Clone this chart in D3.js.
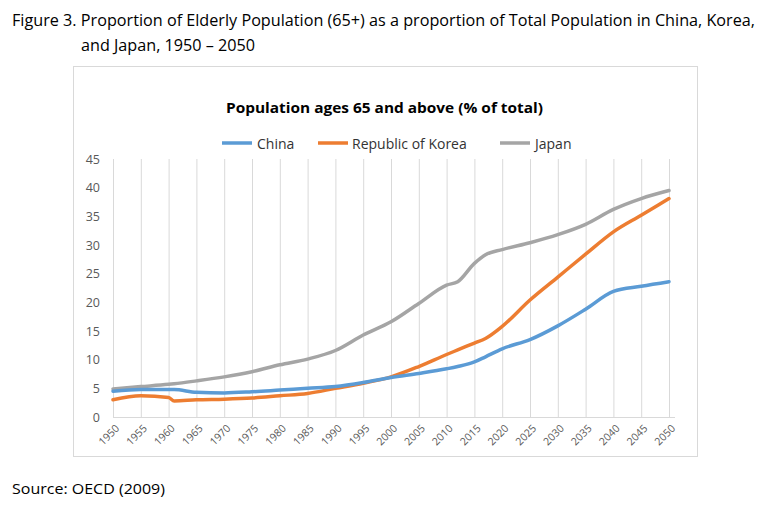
<!DOCTYPE html>
<html><head><meta charset="utf-8">
<script src="https://cdn.jsdelivr.net/npm/d3@7"></script>
<style>body{margin:0;background:#fff;}svg{display:block;}</style>
</head><body>
<script>
const years = [1950,1955,1960,1961,1965,1970,1975,1980,1985,1990,1995,2000,2005,2010,2012,2015,2017,2020,2025,2030,2035,2040,2045,2050];
const china = [4.5,4.8,4.8,4.8,4.3,4.2,4.4,4.7,5.0,5.3,6.0,6.9,7.6,8.4,8.8,9.6,10.5,11.9,13.5,15.9,18.8,21.9,22.8,23.6];
const korea = [3.0,3.7,3.4,2.8,3.0,3.1,3.3,3.7,4.1,5.0,5.9,7.0,8.8,10.9,11.7,12.9,13.7,15.8,20.4,24.4,28.4,32.3,35.2,38.1];
const japan = [4.9,5.3,5.7,5.8,6.3,7.0,7.9,9.1,10.1,11.6,14.3,16.6,19.8,23.0,23.6,26.8,28.3,29.2,30.4,31.8,33.6,36.2,38.1,39.5];
const xTicks = d3.range(1950, 2051, 5);
const yTicks = [0,5,10,15,20,25,30,35,40,45];
const seriesNames = ["China","Republic of Korea","Japan"];
const colors = ["#5B9BD5","#ED7D31","#A5A5A5"];

const W = 768, H = 515;
const svg = d3.select("body").append("svg").attr("width", W).attr("height", H);
const font = "'Open Sans', 'Liberation Sans', sans-serif";

// figure title
svg.append("text").attr("x", 12).attr("y", 26).attr("font-family", font).attr("font-size", 16)
  .attr("fill", "#000").attr("textLength", 743).attr("lengthAdjust", "spacingAndGlyphs")
  .text("Figure 3. Proportion of Elderly Population (65+) as a proportion of Total Population in China, Korea,");
svg.append("text").attr("x", 81).attr("y", 51).attr("font-family", font).attr("font-size", 16)
  .attr("fill", "#000").attr("textLength", 174).attr("lengthAdjust", "spacingAndGlyphs")
  .text("and Japan, 1950 \u2013 2050");

// chart border
svg.append("rect").attr("x", 73.5).attr("y", 66.5).attr("width", 624).attr("height", 390)
  .attr("fill", "#fff").attr("stroke", "#d9d9d9").attr("stroke-width", 1);

// chart title
svg.append("text").attr("x", 226).attr("y", 113).attr("font-family", font).attr("font-size", 15)
  .attr("font-weight", "bold").attr("fill", "#000").attr("textLength", 317).attr("lengthAdjust", "spacingAndGlyphs")
  .text("Population ages 65 and above (% of total)");

const x = d3.scaleLinear().domain([1950, 2050]).range([113, 669]);
const y = d3.scaleLinear().domain([0, 45]).range([417, 159]);

// vertical gridlines
svg.append("g").selectAll("line").data(xTicks).join("line")
  .attr("x1", d => x(d) + 0.5).attr("x2", d => x(d) + 0.5)
  .attr("y1", y(45)).attr("y2", y(0))
  .attr("stroke", "#d9d9d9").attr("stroke-width", 1);

// x axis line
svg.append("line").attr("x1", x(1950)).attr("x2", x(2050) + 6)
  .attr("y1", y(0) + 0.5).attr("y2", y(0) + 0.5).attr("stroke", "#d9d9d9").attr("stroke-width", 1);

// y labels
svg.append("g").selectAll("text").data(yTicks).join("text")
  .attr("x", 100).attr("y", d => y(d) + 4.5).attr("text-anchor", "end")
  .attr("font-family", font).attr("font-size", 12.5).attr("fill", "#595959")
  .text(d => d);

// x labels rotated
svg.append("g").selectAll("text").data(xTicks).join("text")
  .attr("font-family", font).attr("font-size", 10.5).attr("fill", "#595959")
  .attr("text-anchor", "end")
  .attr("transform", d => `translate(${x(d) + 7},${y(0) + 12}) rotate(-45)`)
  .text(d => d);

// lines
const data = [china, korea, japan];
const line = d3.line().x((d, i) => x(years[i])).y(d => y(d)).curve(d3.curveMonotoneX);
[2, 1, 0].forEach(k => {
  svg.append("path").datum(data[k]).attr("d", line)
    .attr("fill", "none").attr("stroke", colors[k]).attr("stroke-width", 3.5)
    .attr("stroke-linejoin", "round").attr("stroke-linecap", "round");
});

// legend
const legendX = [[222, 257], [318, 352], [500, 535]];
seriesNames.forEach((n, i) => {
  svg.append("line").attr("x1", legendX[i][0]).attr("x2", legendX[i][0] + 30)
    .attr("y1", 143).attr("y2", 143).attr("stroke", colors[i]).attr("stroke-width", 3.5);
  svg.append("text").attr("x", legendX[i][1]).attr("y", 148.5)
    .attr("font-family", font).attr("font-size", 14).attr("fill", "#333")
    .text(n);
});

// source
svg.append("text").attr("x", 12).attr("y", 494).attr("font-family", font).attr("font-size", 15)
  .attr("fill", "#000").attr("textLength", 153).attr("lengthAdjust", "spacingAndGlyphs")
  .text("Source: OECD (2009)");
</script>
</body></html>
